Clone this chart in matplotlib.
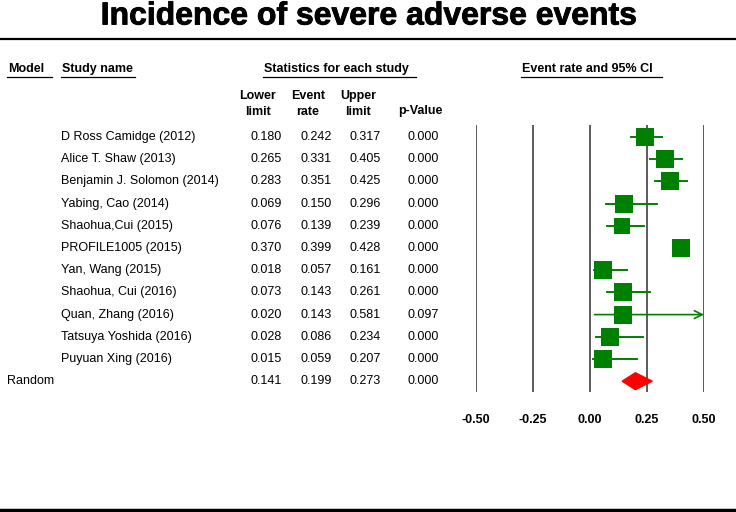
import matplotlib.pyplot as plt
import matplotlib.transforms as mtransforms
import matplotlib.patheffects as pe
from matplotlib.lines import Line2D
from matplotlib.patches import Polygon

plt.rcParams['font.family'] = ['Liberation Sans', 'DejaVu Sans']

studies = ['D Ross Camidge (2012)', 'Alice T. Shaw (2013)', 'Benjamin J. Solomon (2014)',
           'Yabing, Cao (2014)', 'Shaohua,Cui (2015)', 'PROFILE1005 (2015)', 'Yan, Wang (2015)',
           'Shaohua, Cui (2016)', 'Quan, Zhang (2016)', 'Tatsuya Yoshida (2016)', 'Puyuan Xing (2016)']
lower = [0.180, 0.265, 0.283, 0.069, 0.076, 0.370, 0.018, 0.073, 0.020, 0.028, 0.015]
rate = [0.242, 0.331, 0.351, 0.150, 0.139, 0.399, 0.057, 0.143, 0.143, 0.086, 0.059]
upper = [0.317, 0.405, 0.425, 0.296, 0.239, 0.428, 0.161, 0.261, 0.581, 0.234, 0.207]
pvals = [0.000, 0.000, 0.000, 0.000, 0.000, 0.000, 0.000, 0.000, 0.097, 0.000, 0.000]
box_px = [18, 17, 18, 17, 16, 17, 17, 17, 17, 17, 17]
pooled = (0.141, 0.199, 0.273, 0.000)
xticks = [-0.50, -0.25, 0.00, 0.25, 0.50]

W, H = 736, 512
fig = plt.figure(figsize=(W / 100, H / 100), dpi=100)


def fx(x):
    return x / W


def fy(y):
    return 1 - y / H


# forest axis: x -0.5..0.5 spans px 476..704, row i sits at px 137 + 22.2*i
top, bot = 125, 392
row0, step = 137, 22.2
ax = fig.add_axes([fx(476), fy(bot), fx(704 - 476), (bot - top) / H])
ax.set_xlim(-0.5, 0.5)
ax.set_ylim((bot - row0) / step, (top - row0) / step)
for s in ax.spines.values():
    s.set_visible(False)
ax.set_yticks([])
ax.set_xticks(xticks)
ax.set_xticklabels(['%.2f' % t for t in xticks], fontweight='bold', fontsize=9)
ax.tick_params(axis='x', length=0, pad=16)
for t in xticks:
    ax.axvline(t, color='#404040', lw=1.2, zorder=1)

green = '#008000'
for i in range(len(studies)):
    hi = min(upper[i], 0.5)
    if upper[i] > 0.5:
        ax.annotate('', xy=(hi, i), xytext=(lower[i], i),
                    arrowprops=dict(arrowstyle='->', color=green, lw=1.2,
                                    shrinkA=0, shrinkB=0, mutation_scale=14))
    else:
        ax.plot([lower[i], hi], [i, i], color=green, lw=1.4, zorder=2)
    ax.plot(rate[i], i, marker='s', color=green, markersize=box_px[i] * 0.75,
            markeredgewidth=0, zorder=3)

n = len(studies)
lo_p, est_p, hi_p, _ = pooled
dh = 0.38
ax.add_patch(Polygon([(lo_p, n), (est_p, n - dh), (hi_p, n), (est_p, n + dh)],
                     closed=True, color='red', zorder=3))

# text table
tr = mtransforms.blended_transform_factory(fig.transFigure, ax.transData)
fs = 9
cols = [282, 332, 381, 439]
for i in range(n):
    fig.text(fx(61), i, studies[i], transform=tr, fontsize=fs, va='center')
    for val, xr in zip([lower[i], rate[i], upper[i], pvals[i]], cols):
        fig.text(fx(xr), i, '%.3f' % val, transform=tr, fontsize=fs, va='center', ha='right')
fig.text(fx(7), n, 'Random', transform=tr, fontsize=fs, va='center')
for val, xr in zip(pooled, cols):
    fig.text(fx(xr), n, '%.3f' % val, transform=tr, fontsize=fs, va='center', ha='right')

# column headers
for label, xc in [('Lower\nlimit', 258), ('Event\nrate', 308), ('Upper\nlimit', 358)]:
    fig.text(fx(xc), fy(104), label, fontsize=fs, fontweight='bold', ha='center', va='center',
             linespacing=1.5)
fig.text(fx(420), fy(111), 'p-Value', fontsize=fs, fontweight='bold', ha='center', va='center')

# underlined section headers
for label, x0, x1 in [('Model', 7, 52), ('Study name', 61, 135),
                      ('Statistics for each study', 263, 416), ('Event rate and 95% CI', 521, 662)]:
    fig.text(fx(x0 + 1), fy(69), label, fontsize=fs, fontweight='bold', ha='left', va='center')
    fig.add_artist(Line2D([fx(x0), fx(x1)], [fy(77), fy(77)], color='black', lw=0.9))

fig.text(fx(369), fy(24.5), 'Incidence of severe adverse events', fontsize=23, fontweight='bold',
         ha='center', va='baseline',
         path_effects=[pe.withStroke(linewidth=0.6, foreground='black')])
fig.add_artist(Line2D([0, 1], [fy(39), fy(39)], color='black', lw=1.6))
fig.add_artist(Line2D([0, 1], [fy(510), fy(510)], color='black', lw=2.5))

fig.savefig('out.png', dpi=100)
